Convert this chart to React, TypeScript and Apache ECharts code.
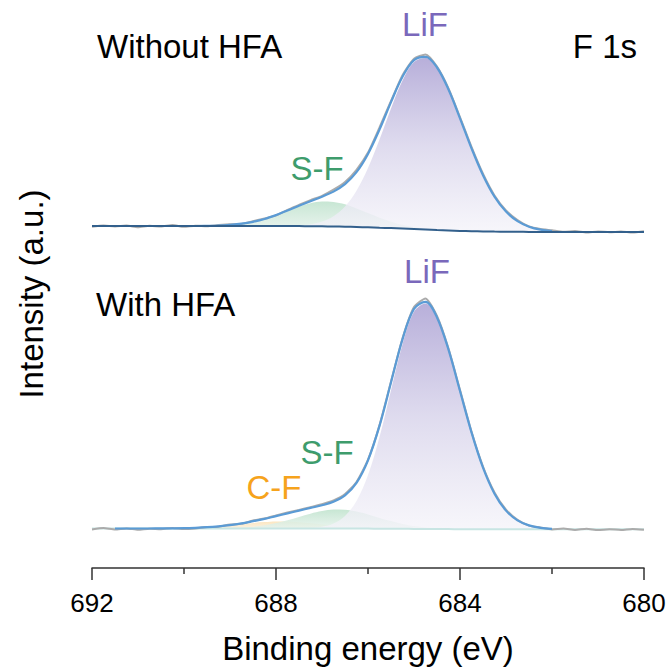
import React, { useEffect, useRef } from "react";
import * as echarts from "echarts";

// Binding-energy grid (eV), high to low, 0.25 eV step
const energy = [
  692, 691.75, 691.5, 691.25, 691, 690.75, 690.5, 690.25, 690, 689.75,
  689.5, 689.25, 689, 688.75, 688.5, 688.25, 688, 687.75, 687.5, 687.25,
  687, 686.75, 686.5, 686.25, 686, 685.75, 685.5, 685.25, 685, 684.75,
  684.5, 684.25, 684, 683.75, 683.5, 683.25, 683, 682.75, 682.5, 682.25,
  682, 681.75, 681.5, 681.25, 681, 680.75, 680.5, 680.25, 680,
];

// Fitted window of the envelope (eV)
const FIT_FROM = 691.5;
const FIT_TO = 682.0;

// ---- Without HFA ----
const rawTop = [
  13.3, 14.5, 13.6, 14.4, 12.8, 14.2, 13.5, 14.9, 13.2, 14.3,
  13.8, 14.9, 15.8, 16.1, 18.8, 21.5, 24.6, 30.1, 35.0, 39.9,
  44.2, 50.3, 58.0, 70.2, 87.4, 112.5, 139.0, 164.8, 181.2, 185.6,
  173.4, 151.6, 122.9, 93.1, 66.2, 44.5, 29.6, 19.9, 13.6, 11.0,
  9.7, 8.2, 9.0, 7.6, 8.6, 7.8, 8.4, 7.4, 8.7,
];
const bgTop = [
  14, 14, 14, 14, 14, 14, 14, 14, 14, 14,
  14, 14, 14, 14, 14, 14, 14, 14, 13.9, 13.8,
  13.7, 13.5, 13.3, 13.0, 12.7, 12.3, 11.9, 11.4, 10.9, 10.4,
  9.9, 9.5, 9.1, 8.8, 8.6, 8.4, 8.3, 8.2, 8.1, 8.0,
  8.0, 8.0, 8.0, 8.0, 8.0, 8.0, 8.0, 8.0, 8.0,
];
const lifTop = [
  0, 0, 0, 0, 0, 0, 0, 0, 0, 0,
  0, 0, 0, 0, 0, 0, 0.1, 0.3, 0.8, 2.0,
  4.8, 10.3, 20.2, 36.2, 59.2, 88.1, 119.6, 148.0, 167.0, 171.7,
  162.1, 140.8, 112.6, 82.9, 56.2, 35.0, 20.1, 10.6, 5.2, 2.3,
  1.0, 0.4, 0.1, 0, 0, 0, 0, 0, 0,
];
const sfTop = [
  0, 0, 0, 0, 0, 0, 0, 0, 0, 0,
  0.2, 0.5, 1.2, 2.3, 4.2, 7.0, 10.8, 15.1, 19.5, 23.0,
  24.8, 24.6, 22.4, 18.6, 14.2, 10.0, 6.4, 3.8, 2.0, 1.0,
  0.5, 0.2, 0, 0, 0, 0, 0, 0, 0, 0,
  0, 0, 0, 0, 0, 0, 0, 0, 0,
];

// ---- With HFA ----
const rawBot = [
  38.6, 39.9, 38.4, 39.6, 38.2, 39.3, 38.8, 40.1, 38.9, 39.6,
  40.9, 41.3, 43.4, 44.2, 47.5, 49.4, 52.6, 55.5, 58.1, 60.9,
  63.8, 67.6, 73.9, 86.0, 108.3, 142.9, 186.4, 229.8, 261.0, 269.6,
  252.0, 219.5, 178.2, 136.4, 101.5, 75.6, 58.4, 48.1, 42.4, 40.5,
  38.6, 39.4, 38.1, 39.2, 37.9, 38.8, 38.0, 39.1, 38.3,
];
const bgBot = [
  39.5, 39.5, 39.5, 39.5, 39.5, 39.5, 39.5, 39.5, 39.5, 39.5,
  39.5, 39.5, 39.5, 39.5, 39.5, 39.5, 39.5, 39.5, 39.5, 39.5,
  39.5, 39.5, 39.5, 39.4, 39.4, 39.3, 39.3, 39.2, 39.1, 39.0,
  38.9, 38.9, 38.8, 38.8, 38.7, 38.7, 38.7, 38.7, 38.7, 38.7,
  38.7, 38.7, 38.7, 38.7, 38.7, 38.7, 38.7, 38.7, 38.7,
];
const lifBot = [
  0, 0, 0, 0, 0, 0, 0, 0, 0, 0,
  0, 0, 0, 0, 0, 0, 0, 0, 0.1, 0.6,
  1.8, 5.0, 12.6, 27.6, 53.5, 91.7, 138.5, 184.6, 217.1, 225.6,
  210.9, 179.1, 138.1, 96.8, 61.6, 35.6, 18.7, 8.9, 3.9, 1.5,
  0.5, 0.2, 0, 0, 0, 0, 0, 0, 0,
];
const sfBot = [
  0, 0, 0, 0, 0, 0, 0, 0, 0, 0,
  0.1, 0.2, 0.4, 0.9, 1.8, 3.2, 5.4, 8.2, 11.5, 14.8,
  17.4, 18.9, 18.7, 17.0, 14.2, 10.8, 7.6, 4.9, 2.9, 1.5,
  0.8, 0.3, 0.1, 0, 0, 0, 0, 0, 0, 0,
  0, 0, 0, 0, 0, 0, 0, 0, 0,
];
const cfBot = [
  0, 0, 0, 0, 0, 0, 0.1, 0.15, 0.3, 0.7,
  1.2, 2.0, 3.0, 4.2, 5.5, 6.4, 7.0, 6.9, 6.3, 5.2,
  4.0, 2.8, 1.8, 1.1, 0.6, 0.3, 0.1, 0, 0, 0,
  0, 0, 0, 0, 0, 0, 0, 0, 0, 0,
  0, 0, 0, 0, 0, 0, 0, 0, 0,
];

const xTickLabels = ["692", "688", "684", "680"];

const FONT = '"Liberation Sans", Arial, Helvetica, sans-serif';
const C_LIF = "#7a68bb";
const C_SF = "#3e9c6c";
const C_CF = "#f6a31c";
const C_ENV = "#5b9bd5";
const C_RAW = "#ababab";

// Sum of fitted parts, only inside the fit window
const envelopeOf = (parts: number[][]) =>
  energy.map((e, i) =>
    e <= FIT_FROM && e >= FIT_TO ? parts.reduce((s, p) => s + p[i], 0) : null
  );

const grad = (stops: [number, string][]) =>
  new echarts.graphic.LinearGradient(
    0, 0, 0, 1,
    stops.map(([offset, color]) => ({ offset, color }))
  );

const lifFill = () =>
  grad([
    [0, "rgba(180,171,216,0.95)"],
    [0.5, "rgba(218,214,236,0.88)"],
    [1, "rgba(244,243,249,0.75)"],
  ]);
const sfFill = () =>
  grad([
    [0, "rgba(196,229,209,0.95)"],
    [1, "rgba(232,243,237,0.85)"],
  ]);
const cfFill = () =>
  grad([
    [0, "rgba(251,228,188,0.95)"],
    [1, "rgba(252,242,224,0.85)"],
  ]);

// Component peak filled between the background and background + peak
function componentPair(idx: number, stack: string, bg: number[], comp: number[], fill: any) {
  const common = {
    type: "line",
    xAxisIndex: idx,
    yAxisIndex: idx,
    stack,
    smooth: 0.35,
    symbol: "none",
    silent: true,
    lineStyle: { opacity: 0 },
  };
  return [
    { ...common, data: bg },
    { ...common, data: comp, areaStyle: { color: fill, opacity: 1 } },
  ];
}

function lineSeries(idx: number, data: any[], color: string, width: number, smooth = 0.35) {
  return {
    type: "line",
    xAxisIndex: idx,
    yAxisIndex: idx,
    data,
    smooth,
    symbol: "none",
    silent: true,
    connectNulls: false,
    lineStyle: { color, width },
  };
}

function label(text: string, x: number, y: number, color: string, align = "center", rotation = 0) {
  return {
    type: "text",
    x,
    y,
    rotation,
    silent: true,
    style: {
      text,
      fill: color,
      font: `33px ${FONT}`,
      align,
      verticalAlign: "middle",
      textAlign: align,
      textVerticalAlign: "middle",
    },
  };
}

const hiddenCategoryAxis = (gridIndex: number) => ({
  gridIndex,
  type: "category",
  position: "top",
  data: energy.map(String),
  boundaryGap: false,
  show: false,
});

export default function App() {
  const ref = useRef<HTMLDivElement>(null);

  useEffect(() => {
    document.body.style.margin = "0";
    if (!ref.current) return;
    const chart = echarts.init(ref.current, undefined, { renderer: "svg" });

    const envTop = envelopeOf([bgTop, lifTop, sfTop]);
    const envBot = envelopeOf([bgBot, lifBot, sfBot, cfBot]);

    chart.setOption({
      animation: false,
      backgroundColor: "#ffffff",
      grid: [
        { left: 92, right: 28, top: 20, height: 220 },
        { left: 92, right: 28, top: 290, height: 278 },
      ],
      xAxis: [
        hiddenCategoryAxis(0),
        hiddenCategoryAxis(1),
        {
          gridIndex: 1,
          type: "value",
          position: "bottom",
          min: 680,
          max: 692,
          interval: 4,
          inverse: true,
          axisLine: { onZero: false, lineStyle: { color: "#333", width: 1.5 } },
          axisTick: { show: true, length: 12, lineStyle: { color: "#333", width: 1.5 } },
          minorTick: { show: true, splitNumber: 2, length: 6, lineStyle: { color: "#333", width: 1.5 } },
          splitLine: { show: false },
          minorSplitLine: { show: false },
          axisLabel: {
            fontSize: 26,
            color: "#000",
            fontFamily: FONT,
            margin: 22,
            formatter: (v: number) => xTickLabels.find((t) => Number(t) === v) ?? "",
          },
          name: "Binding energy (eV)",
          nameLocation: "middle",
          nameGap: 64,
          nameTextStyle: { fontSize: 33, color: "#000", fontFamily: FONT },
        },
      ],
      yAxis: [
        { gridIndex: 0, type: "value", min: 0, max: 220, show: false },
        { gridIndex: 1, type: "value", min: 0, max: 278, show: false },
      ],
      series: [
        // Without HFA
        ...componentPair(0, "topSF", bgTop, sfTop, sfFill()),
        ...componentPair(0, "topLiF", bgTop, lifTop, lifFill()),
        lineSeries(0, rawTop, C_RAW, 2, 0.2),
        lineSeries(0, envTop, C_ENV, 2.2),
        lineSeries(0, bgTop, "#33608c", 2),
        // With HFA
        ...componentPair(1, "botCF", bgBot, cfBot, cfFill()),
        ...componentPair(1, "botSF", bgBot, sfBot, sfFill()),
        ...componentPair(1, "botLiF", bgBot, lifBot, lifFill()),
        lineSeries(1, bgBot, "#c8e5e3", 2),
        lineSeries(1, rawBot, C_RAW, 2, 0.2),
        lineSeries(1, envBot, C_ENV, 2.2),
      ],
      graphic: [
        label("Without HFA", 97, 46, "#000", "left"),
        label("F 1s", 637, 46, "#000", "right"),
        label("LiF", 425, 24, C_LIF),
        label("S-F", 317, 168, C_SF),
        label("With HFA", 96, 304, "#000", "left"),
        label("LiF", 427, 271, C_LIF),
        label("S-F", 327, 452, C_SF),
        label("C-F", 274, 487, C_CF),
        label("Intensity (a.u.)", 31, 294, "#000", "center", Math.PI / 2),
      ],
    });

    return () => chart.dispose();
  }, []);

  return <div ref={ref} style={{ width: 672, height: 670 }} />;
}
